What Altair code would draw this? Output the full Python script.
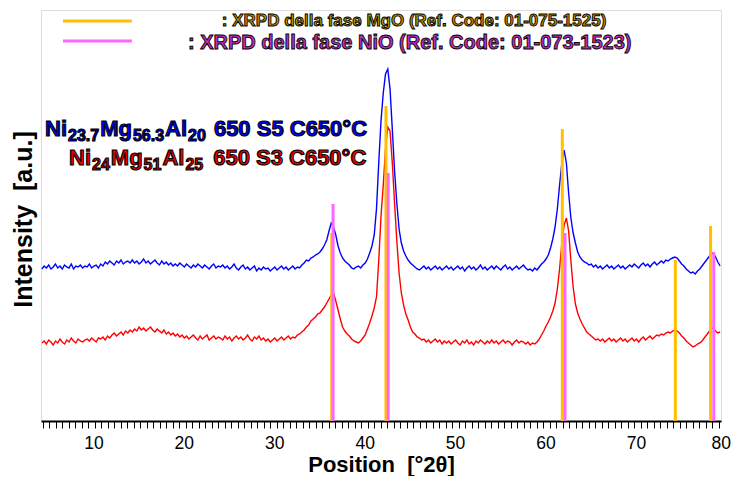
import altair as alt
import pandas as pd

# ---------------- data ----------------
# sample grid of the two diffractograms (degrees 2theta)
x_start = 4.25
x_step = 0.25

blue_counts = [
    152, 155, 153, 156, 152, 154, 157, 153, 155, 152, 156, 154, 153, 157, 152, 155, 154, 156, 153, 155,
    154, 157, 153, 155, 156, 153, 157, 155, 159, 157, 160, 158, 156, 160, 158, 161, 157, 159, 160, 158,
    161, 158, 160, 157, 159, 162, 158, 160, 157, 159, 161, 158, 156, 160, 157, 159, 156, 158, 155, 157,
    155, 158, 156, 154, 157, 155, 153, 156, 154, 157, 155, 153, 156, 154, 152, 155, 157, 153, 155, 154,
    156, 153, 155, 152, 154, 157, 153, 151, 154, 156, 152, 154, 151, 153, 155, 150, 153, 151, 154, 152,
    153, 150, 152, 154, 151, 153, 155, 152, 154, 151, 153, 155, 152, 154, 153, 156, 158, 161, 160, 163,
    164, 166, 167, 169, 172, 176, 181, 190, 198, 194, 186, 175, 168, 163, 160, 158, 156, 153, 152, 154,
    155, 153, 156, 158, 162, 168, 175, 186, 212, 258, 300, 328, 347, 352, 332, 292, 250, 218, 192, 178,
    170, 165, 161, 158, 156, 154, 152, 151, 153, 155, 152, 154, 151, 153, 155, 152, 154, 151, 153, 155,
    152, 154, 151, 153, 155, 152, 154, 150, 153, 155, 152, 154, 151, 153, 156, 152, 154, 151, 153, 155,
    152, 155, 153, 151, 154, 156, 152, 154, 151, 153, 155, 152, 154, 156, 153, 151, 152, 150, 153, 151,
    154, 157, 159, 162, 166, 173, 182, 194, 212, 236, 258, 271, 258, 228, 203, 188, 178, 169, 164, 161,
    159, 158, 156, 157, 154, 156, 153, 155, 152, 154, 156, 153, 155, 152, 154, 156, 153, 155, 152, 154,
    156, 154, 157, 155, 153, 156, 158, 155, 157, 154, 157, 159, 156, 158, 160, 158, 161, 160, 162, 163,
    164, 163, 160, 157, 155, 152, 150, 148, 149, 147, 150, 152, 155, 158, 161, 164, 167, 168, 164, 159, 155,
]

red_counts = [
    78, 80, 77, 81, 79, 76, 80, 78, 82, 79, 77, 81, 79, 83, 80, 78, 82, 80, 79, 81,
    82, 80, 83, 81, 79, 83, 82, 84, 81, 85, 83, 86, 88, 85, 87, 89, 86, 90, 88, 91,
    89, 92, 90, 94, 91, 93, 90, 92, 94, 91, 89, 92, 90, 88, 91, 87, 89, 86, 88, 85,
    87, 84, 86, 83, 85, 82, 84, 86, 83, 81, 85, 82, 84, 86, 81, 83, 85, 82, 84, 83,
    81, 85, 82, 84, 80, 83, 85, 82, 84, 81, 83, 86, 82, 80, 84, 82, 85, 81, 83, 80,
    82, 79, 81, 83, 80, 82, 84, 81, 83, 85, 82, 84, 83, 86, 87, 89, 91, 94, 96, 100,
    102, 104, 107, 108, 111, 114, 118, 122, 126, 128, 120, 111, 102, 94, 90, 87, 85, 82, 80, 79,
    78, 80, 83, 86, 92, 98, 105, 113, 124, 160, 205, 236, 272, 294, 290, 258, 218, 180, 148, 128,
    116, 107, 101, 94, 89, 87, 84, 83, 81, 82, 79, 81, 78, 80, 82, 79, 81, 77, 80, 78,
    80, 77, 79, 81, 78, 76, 80, 78, 81, 77, 79, 76, 80, 78, 81, 79, 77, 80, 78, 81,
    78, 80, 77, 79, 81, 78, 80, 79, 76, 79, 81, 78, 80, 79, 77, 79, 76, 78, 77, 79,
    82, 86, 90, 95, 99, 104, 110, 118, 132, 152, 178, 196, 203, 190, 160, 134, 117, 108, 102, 97,
    93, 89, 87, 85, 83, 81, 82, 80, 82, 79, 81, 83, 80, 82, 79, 81, 83, 80, 82, 79,
    81, 83, 80, 82, 79, 82, 84, 81, 83, 85, 82, 84, 86, 85, 87, 86, 88, 89, 88, 90,
    91, 90, 88, 85, 83, 80, 78, 76, 74, 75, 77, 78, 80, 83, 86, 89, 92, 93, 90, 88, 89,
]

# reference patterns (position, drawn height)
mgo_pos = [36.3, 42.3, 61.8, 74.3, 78.2]
mgo_height = [188, 315, 292, 161, 195]
nio_pos = [36.45, 42.55, 62.1, 78.55]
nio_height = [217, 248, 188, 169]

tick_labels = [10, 20, 30, 40, 50, 60, 70]
last_label = [80]
minor_ticks = [round(4.33 + 0.719 * k, 3) for k in range(105)]

legend_items = [": XRPD della fase MgO (Ref. Code: 01-075-1525)",
                ": XRPD della fase NiO (Ref. Code: 01-073-1523)"]

# sample labels: (text, is_subscript, extra gap after the piece in px)
blue_label = [("Ni", False, 1), ("23.7", True, 1), ("Mg", False, 1), ("56.3", True, 1),
              ("Al", False, 1), ("20", True, 8), ("650 S5 C650°C", False, 0)]
red_label = [("Ni", False, 1), ("24", True, 1), ("Mg", False, 1), ("51", True, 1),
             ("Al", False, 1), ("25", True, 10), ("650 S3 C650°C", False, 0)]

ORANGE = "#FFC000"
MAGENTA = "#FF66FF"
FONT = "Liberation Sans"

X_DOMAIN = [4.15, 79.35]
Y_DOMAIN = [0, 411]
W, H = 680, 411
MAIN_SIZE, SUB_SIZE = 22, 16

# Arial/Liberation Sans Bold advance widths (per em) to lay the label pieces side by side
ADV = {"N": .722, "i": .278, "M": .833, "g": .611, "A": .722, "l": .278, " ": .278,
       ".": .278, "S": .667, "C": .722, "°": .4}
for d in "0123456789":
    ADV[d] = .556


def pieces(parts, x0, y0, color):
    rows = []
    px = 0.0
    deg_per_px = (X_DOMAIN[1] - X_DOMAIN[0]) / W
    for text, sub, gap in parts:
        size = SUB_SIZE if sub else MAIN_SIZE
        rows.append({"x": x0 + px * deg_per_px, "y": y0 - (5 if sub else 0),
                     "t": text, "s": size, "c": color})
        px += sum(ADV.get(ch, .556) for ch in text) * size + gap
    return rows


# ---------------- tables ----------------
xs = [round(x_start + x_step * i, 3) for i in range(len(blue_counts))]
blue_df = pd.DataFrame({"pos": xs, "I": blue_counts})
red_df = pd.DataFrame({"pos": xs, "I": red_counts})

ref_df = pd.DataFrame({
    "pos": mgo_pos + nio_pos,
    "top": mgo_height + nio_height,
    "base": [0] * (len(mgo_pos) + len(nio_pos)),
    "c": [ORANGE] * len(mgo_pos) + [MAGENTA] * len(nio_pos),
})

leg_line_df = pd.DataFrame({"x": [6.58, 6.58], "x2": [14.2, 14.2], "y": [400, 380],
                            "c": [ORANGE, MAGENTA]})
leg_text_df = pd.DataFrame({"x": [24.15, 20.4], "y": [400, 378], "t": legend_items,
                            "c": ["#C09000", "#C030C0"], "s": [17, 20]})
lab_df = pd.DataFrame(pieces(blue_label, 4.6, 285, "#0000FF") +
                      pieces(red_label, 7.25, 256, "#EE0000"))
tick_df = pd.DataFrame({"v": tick_labels})
last_df = pd.DataFrame({"v": last_label})

xscale = alt.Scale(domain=X_DOMAIN, nice=False, zero=False)
yscale = alt.Scale(domain=Y_DOMAIN, nice=False, zero=False)

xaxis = alt.Axis(values=minor_ticks, labels=False, grid=False, tickSize=7, tickWidth=1,
                 tickColor="black", domainColor="black", domainWidth=2,
                 title="Position\u00a0\u00a0[°2θ]", titleFont=FONT, titleFontSize=22,
                 titleFontWeight="bold", titleColor="black", titleX=340, titleY=43,
                 titleBaseline="middle", titleAlign="center")
yaxis = alt.Axis(ticks=False, labels=False, domain=False, grid=False,
                 title="Intensity\u00a0\u00a0[a.u.]", titleFont=FONT, titleFontSize=25,
                 titleFontWeight="bold", titleColor="black", titleX=-18, titleY=209,
                 titleAngle=270, titleAlign="center", titleBaseline="middle")

blue = alt.Chart(blue_df).mark_line(color="#0000FF", strokeWidth=1.4).encode(
    x=alt.X("pos:Q", scale=xscale, axis=xaxis),
    y=alt.Y("I:Q", scale=yscale, axis=yaxis),
)
red = alt.Chart(red_df).mark_line(color="#FF0000", strokeWidth=1.4).encode(
    x=alt.X("pos:Q", scale=xscale, axis=xaxis),
    y=alt.Y("I:Q", scale=yscale, axis=yaxis),
)
refs = alt.Chart(ref_df).mark_rule(strokeWidth=3).encode(
    x=alt.X("pos:Q", scale=xscale, axis=xaxis),
    y=alt.Y("base:Q", scale=yscale, axis=yaxis),
    y2="top:Q",
    color=alt.Color("c:N", scale=None),
)
leg_lines = alt.Chart(leg_line_df).mark_rule(strokeWidth=3).encode(
    x=alt.X("x:Q", scale=xscale, axis=xaxis),
    x2="x2:Q",
    y=alt.Y("y:Q", scale=yscale, axis=yaxis),
    color=alt.Color("c:N", scale=None),
)
leg_text = alt.Chart(leg_text_df).mark_text(
    align="left", baseline="middle", font=FONT, fontWeight="bold",
    stroke="black", strokeWidth=0.9,
).encode(
    x=alt.X("x:Q", scale=xscale, axis=xaxis),
    y=alt.Y("y:Q", scale=yscale, axis=yaxis),
    text="t:N",
    fill=alt.Fill("c:N", scale=None),
    size=alt.Size("s:Q", scale=None),
)
labels = alt.Chart(lab_df).mark_text(
    align="left", baseline="alphabetic", font=FONT, fontWeight="bold",
    stroke="black", strokeWidth=1.1,
).encode(
    x=alt.X("x:Q", scale=xscale, axis=xaxis),
    y=alt.Y("y:Q", scale=yscale, axis=yaxis),
    text="t:N",
    fill=alt.Fill("c:N", scale=None),
    size=alt.Size("s:Q", scale=None),
)
ticklab = alt.Chart(tick_df).mark_text(
    align="center", baseline="alphabetic", font=FONT, fontSize=17.5, color="black",
).encode(
    x=alt.X("v:Q", scale=xscale, axis=xaxis),
    y=alt.value(439),
    text="v:Q",
)
ticklab_last = alt.Chart(last_df).mark_text(
    align="right", baseline="alphabetic", font=FONT, fontSize=17.5, color="black", dx=4,
).encode(
    x=alt.X("v:Q", scale=xscale, axis=xaxis),
    y=alt.value(439),
    text="v:Q",
)

chart = alt.layer(blue, red, refs, leg_lines, leg_text, labels, ticklab, ticklab_last).properties(
    width=W, height=H,
    padding={"left": 33, "top": 2, "right": 10, "bottom": 55},
    autosize=alt.AutoSizeParams(type="none"),
).configure_view(stroke="black", strokeWidth=2).configure(background="white")

chart.save("out.html", embed_options={"renderer": "svg", "actions": False})
